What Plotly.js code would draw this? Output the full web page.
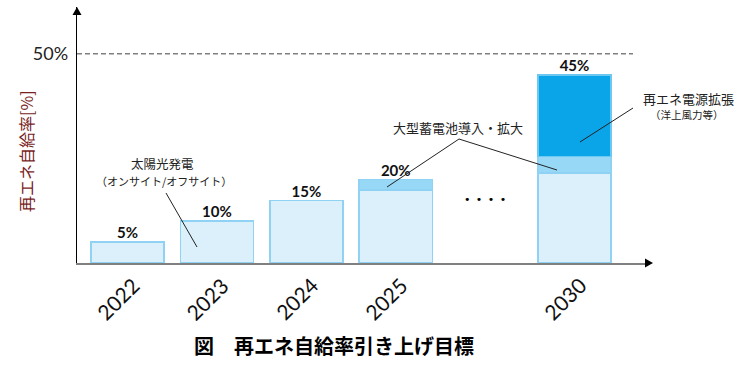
<!DOCTYPE html>
<html>
<head>
<meta charset="utf-8">
<script src="https://cdn.plot.ly/plotly-3.0.1.min.js"></script>
<style>html,body{margin:0;padding:0;background:#fff;}#chart{width:751px;height:372px;}</style>
</head>
<body>
<div id="chart"></div>
<script>
// ---- data ----
const categories = ['2022', '2023', '2024', '2025', ' ', '2030'];
const yearTicks = ['2022', '2023', '2024', '2025', '2030'];
const solarBase = [5, 10, 15, 17.5, null, 21.5];          // 太陽光発電
const batteryAdd = [null, null, null, 2.5, null, 4];      // 大型蓄電池導入・拡大
const expansionAdd = [null, null, null, null, null, 19.5]; // 再エネ電源拡張
const totals = [5, 10, 15, 20, null, 45];
const totalLabels = ['5%', '10%', '15%', '20%', '', '45%'];
const gapCategory = [' '];
const gapLevel = [15];
const targetLevel = 50;

// ---- layout helpers (pixel -> paper) ----
const L = 77, T = 7, W = 569, H = 256;
const px = v => (v - L) / W;
const py = v => (T + H - v) / H;

const latin = 'Lato, "Noto Sans CJK JP", sans-serif';
const cjk = '"Noto Sans CJK JP", sans-serif';
const edge = '#8fd2f3';

const traces = [
  {type: 'bar', x: categories, y: solarBase, name: '太陽光発電',
   marker: {color: '#dcf0fb', line: {color: edge, width: 1.5}}, hoverinfo: 'skip'},
  {type: 'bar', x: categories, y: batteryAdd, name: '大型蓄電池',
   marker: {color: '#97d8f6', line: {color: edge, width: 1.5}}, hoverinfo: 'skip'},
  {type: 'bar', x: categories, y: expansionAdd, name: '再エネ電源拡張',
   marker: {color: '#0aa4e9', line: {color: '#6cc8f1', width: 1.5}}, hoverinfo: 'skip'},
  {type: 'scatter', mode: 'text', x: categories, y: totals, text: totalLabels,
   textposition: 'top center', cliponaxis: false,
   textfont: {family: latin, size: 15, color: '#111', weight: 'bold'}, hoverinfo: 'skip'},
  {type: 'scatter', mode: 'text', x: gapCategory, y: gapLevel, text: ['•\u2002•\u2002•\u2002•'],
   textposition: 'middle center', cliponaxis: false,
   textfont: {family: 'DejaVu Sans', size: 11, color: '#000'}, hoverinfo: 'skip'}
];

function note(xp, yp, text, size, extra) {
  return Object.assign({xref: 'paper', yref: 'paper', x: px(xp), y: py(yp), text: text,
    xanchor: 'center', yanchor: 'middle', showarrow: false,
    font: {family: cjk, size: size, color: '#222'}}, extra || {});
}

// year labels placed at their category index (category names look numeric)
const yearNotes = yearTicks.map(t => ({
  xref: 'x', yref: 'paper', x: categories.indexOf(t), y: py(298), text: t, textangle: -45,
  xanchor: 'center', yanchor: 'middle', xshift: -10, showarrow: false,
  font: {family: latin, size: 21, color: '#111'}
}));

const layout = {
  width: 751, height: 372,
  margin: {l: L, r: 751 - L - W, t: T, b: 372 - T - H},
  paper_bgcolor: '#fff', plot_bgcolor: '#fff',
  showlegend: false,
  barmode: 'stack',
  bargap: 0.183,
  xaxis: {
    type: 'category', categoryorder: 'array', categoryarray: categories,
    range: [-0.566, 5.8],
    showticklabels: false, ticks: '', showgrid: false, zeroline: false,
    showline: true, linecolor: '#808080', linewidth: 2
  },
  yaxis: {
    range: [0, 61.2],
    tickvals: [targetLevel], ticktext: ['50%'], ticks: '',
    showgrid: false, zeroline: false,
    showline: true, linecolor: '#000', linewidth: 1.3,
    ticklabelstandoff: 4,
    tickfont: {family: latin, size: 18, color: '#222'}
  },
  shapes: [
    {type: 'line', xref: 'paper', yref: 'y', x0: 0, x1: px(633), y0: targetLevel, y1: targetLevel,
     line: {color: '#808080', width: 1.5, dash: '5px,3px'}},
    {type: 'path', xref: 'paper', yref: 'paper',
     path: `M ${px(645)} ${py(258.5)} L ${px(653)} ${py(263)} L ${px(645)} ${py(267.5)} Z`,
     fillcolor: '#000', line: {width: 0}},
    {type: 'path', xref: 'paper', yref: 'paper',
     path: `M ${px(72.5)} ${py(15)} L ${px(77)} ${py(7)} L ${px(81.5)} ${py(15)} Z`,
     fillcolor: '#000', line: {width: 0}},
    // leader lines
    {type: 'line', xref: 'paper', yref: 'paper', x0: px(166), y0: py(193), x1: px(197), y1: py(247),
     line: {color: '#222', width: 1}},
    {type: 'line', xref: 'paper', yref: 'paper', x0: px(459), y0: py(139), x1: px(387), y1: py(187),
     line: {color: '#222', width: 1}},
    {type: 'line', xref: 'paper', yref: 'paper', x0: px(459), y0: py(139), x1: px(557), y1: py(170),
     line: {color: '#222', width: 1}},
    {type: 'line', xref: 'paper', yref: 'paper', x0: px(633), y0: py(108), x1: px(580), y1: py(142),
     line: {color: '#222', width: 1}}
  ],
  annotations: [
    note(26, 151, '再エネ自給率[%]', 16, {textangle: -90, font: {family: cjk, size: 16, color: '#7a1e1e'}}),
    note(162, 163, '太陽光発電', 12.5),
    note(164, 181, '（オンサイト/オフサイト）', 11),
    note(458, 127, '大型蓄電池導入・拡大', 13),
    note(688, 98, '再エネ電源拡張', 13),
    note(687, 114, '（洋上風力等）', 10.5),
    note(334, 345, '図　再エネ自給率引き上げ目標', 20, {font: {family: cjk, size: 20, color: '#000', weight: 'bold'}})
  ].concat(yearNotes)
};

Plotly.newPlot('chart', traces, layout, {displayModeBar: false, staticPlot: true});
</script>
</body>
</html>
